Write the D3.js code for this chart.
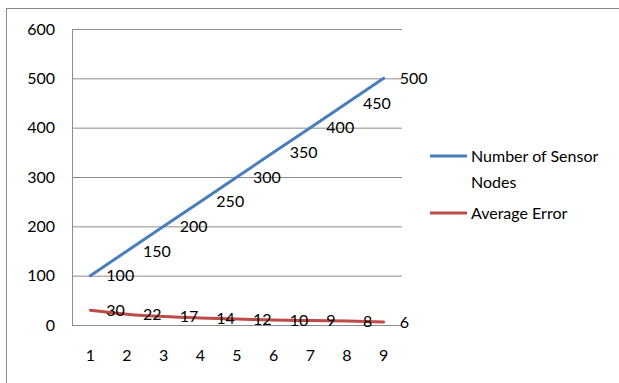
<!DOCTYPE html>
<html><head><meta charset="utf-8">
<script src="https://cdn.jsdelivr.net/npm/d3@7"></script>
<style>body{margin:0;background:#fff}svg{display:block}text{font-family:Lato,"Open Sans",sans-serif;}</style>
</head><body><svg id="c" width="619" height="383"></svg>
<script>
const categories = [1,2,3,4,5,6,7,8,9];
const sensorNodes = [100,150,200,250,300,350,400,450,500];
const averageError = [30,22,17,14,12,10,9,8,6];
const yTicks = [0,100,200,300,400,500,600];
const seriesNames = ["Number of Sensor Nodes","Average Error"];
const colors = ["#4a7ebb","#be4b48"];
const FS = 16;

const svg = d3.select("#c");
svg.append("rect").attr("x",6.5).attr("y",8.5).attr("width",630).attr("height",400)
  .attr("fill","#fff").attr("stroke","#888").attr("stroke-width",1);

const L=72,R=402,T=29,B=325;
const x = d3.scalePoint().domain(categories).range([L,R]).padding(0.5);
const y = d3.scaleLinear().domain([0,600]).range([B,T]);

svg.append("g").selectAll("line").data(yTicks).join("line")
  .attr("x1",L).attr("x2",R).attr("y1",d=>y(d)+0.5).attr("y2",d=>y(d)+0.5)
  .attr("stroke","#8c8c8c").attr("stroke-width",1);
svg.append("line").attr("x1",L+0.5).attr("x2",L+0.5).attr("y1",T).attr("y2",B+1)
  .attr("stroke","#8c8c8c");

svg.append("g").selectAll("text").data(yTicks).join("text")
  .attr("x",55).attr("y",d=>y(d)).attr("dy","0.35em").attr("text-anchor","end")
  .attr("font-size",FS).attr("fill","#000").text(d=>d);
svg.append("g").selectAll("text").data(categories).join("text")
  .attr("x",d=>x(d)).attr("y",355).attr("dy","0.35em").attr("text-anchor","middle")
  .attr("font-size",FS).attr("fill","#000").text(d=>d);

const series=[sensorNodes,averageError];
series.forEach((vals,i)=>{
  const line=d3.line().x((d,j)=>x(categories[j])).y(d=>y(d));
  if(i===1) line.curve(d3.curveMonotoneX);
  svg.append("path").datum(vals).attr("d",line).attr("fill","none")
    .attr("stroke",colors[i]).attr("stroke-width",3).attr("stroke-linecap","round");
});
series.forEach((vals,i)=>{
  svg.append("g").selectAll("text").data(vals).join("text")
    .attr("x",(d,j)=>x(categories[j])+16).attr("y",d=>y(d)).attr("dy","0.35em")
    .attr("font-size",FS).attr("fill","#000").text(d=>d);
});

const lg=svg.append("g");
lg.append("line").attr("x1",430).attr("x2",467).attr("y1",156).attr("y2",156).attr("stroke",colors[0]).attr("stroke-width",3);
lg.append("text").attr("x",471).attr("y",156).attr("dy","0.35em").attr("font-size",FS).text("Number of Sensor");
lg.append("text").attr("x",471).attr("y",182).attr("dy","0.35em").attr("font-size",FS).text("Nodes");
lg.append("line").attr("x1",430).attr("x2",467).attr("y1",213).attr("y2",213).attr("stroke",colors[1]).attr("stroke-width",3);
lg.append("text").attr("x",471).attr("y",213).attr("dy","0.35em").attr("font-size",FS).text("Average Error");
</script></body></html>
